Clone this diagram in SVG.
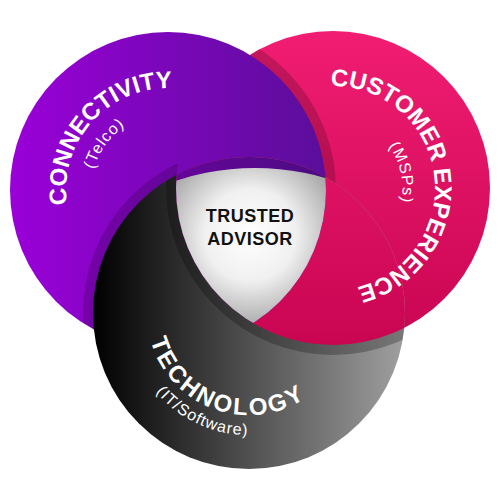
<svg xmlns="http://www.w3.org/2000/svg" width="500" height="500" viewBox="0 0 500 500">
<style>
.t{font-family:"Liberation Sans",Arial,sans-serif;font-weight:700;font-size:24px;fill:#fff}
.s{font-family:"Liberation Sans",Arial,sans-serif;font-weight:400;font-size:16px;fill:#fff;letter-spacing:1px}
.c{font-family:"Liberation Sans",Arial,sans-serif;font-weight:700;font-size:18px;fill:#111;text-anchor:middle;letter-spacing:0.5px}
.sh{fill:none;stroke:#000;stroke-width:20}
</style>
<defs>
<linearGradient id="gP" gradientUnits="userSpaceOnUse" x1="10" y1="0" x2="326" y2="0"><stop offset="0" stop-color="#9a00d8"/><stop offset="1" stop-color="#5a0e9a"/></linearGradient>
<linearGradient id="gK" gradientUnits="userSpaceOnUse" x1="0" y1="31" x2="0" y2="345"><stop offset="0" stop-color="#f11d72"/><stop offset="1" stop-color="#c90552"/></linearGradient>
<linearGradient id="gD" gradientUnits="userSpaceOnUse" x1="93" y1="0" x2="405" y2="0"><stop offset="0" stop-color="#000"/><stop offset="1" stop-color="#a0a0a0"/></linearGradient>
<radialGradient id="gW" gradientUnits="userSpaceOnUse" cx="250" cy="235" r="92"><stop offset="0" stop-color="#fff"/><stop offset="0.5" stop-color="#f0f0f0"/><stop offset="1" stop-color="#a9a9a9"/></radialGradient>
<clipPath id="cP"><circle cx="168" cy="190" r="158"/></clipPath>
<clipPath id="cK"><circle cx="333" cy="188" r="157"/></clipPath>
<clipPath id="cD"><circle cx="249" cy="313" r="156"/></clipPath>
<mask id="mPnotK" maskUnits="userSpaceOnUse" x="0" y="0" width="500" height="500"><circle cx="168" cy="190" r="158" fill="#fff"/><circle cx="333" cy="188" r="157" fill="#000"/></mask>
<path id="pC" d="M82.5,245.5 A102,102 0 0 1 214.3,99.1"/>
<path id="pCs" d="M108.2,238.5 A77,77 0 0 1 195.6,118.1"/>
<path id="pX" d="M302.3,90.7 A102,102 0 1 1 328.6,289.9"/>
<path id="pXs" d="M320.8,119.1 A70,70 0 0 1 351.1,255.6"/>
<path id="pT" d="M160.7,262 A102,102 0 1 0 349.4,330.7"/>
<path id="pTs" d="M149.1,243 A122,122 0 1 0 366.8,344.6"/>
</defs>
<g id="customer-experience">
<circle cx="333" cy="188" r="157" fill="url(#gK)"/>
<circle cx="168" cy="190" r="158" class="sh" clip-path="url(#cK)" opacity="0.18"/>
</g>
<g id="connectivity">
<circle cx="168" cy="190" r="158" fill="url(#gP)"/>
<circle cx="249" cy="313" r="156" class="sh" mask="url(#mPnotK)" opacity="0.16"/>
</g>
<g id="technology">
<circle cx="249" cy="313" r="156" fill="url(#gD)"/>
<circle cx="333" cy="188" r="157" class="sh" clip-path="url(#cD)" opacity="0.25"/>
</g>
<g id="customer-experience-front">
<circle cx="333" cy="188" r="157" fill="url(#gK)" clip-path="url(#cD)"/>
</g>
<g id="trusted-advisor">
<g clip-path="url(#cK)"><g clip-path="url(#cP)">
<circle cx="249" cy="313" r="156" fill="url(#gP)"/>
<circle cx="249" cy="313" r="156" fill="#000" opacity="0.16"/>
<circle cx="255" cy="420" r="252" fill="url(#gW)" clip-path="url(#cD)"/>
</g></g>
<text class="c" x="250" y="222">TRUSTED</text>
<text class="c" x="250" y="245">ADVISOR</text>
</g>
<g id="labels">
<text class="t"><textPath href="#pC" startOffset="50%" text-anchor="middle">CONNECTIVITY</textPath></text>
<text class="s"><textPath href="#pCs" startOffset="50%" text-anchor="middle">(Telco)</textPath></text>
<text class="t"><textPath href="#pX" startOffset="50%" text-anchor="middle">CUSTOMER EXPERIENCE</textPath></text>
<text class="s"><textPath href="#pXs" startOffset="50%" text-anchor="middle">(MSPs)</textPath></text>
<text class="t" font-size="25" letter-spacing="2.5"><textPath href="#pT" startOffset="50%" text-anchor="middle">TECHNOLOGY</textPath></text>
<text class="s" font-size="17" letter-spacing="1.5"><textPath href="#pTs" startOffset="50%" text-anchor="middle">(IT/Software)</textPath></text>
</g>
<g id="connectors"></g>
</svg>
